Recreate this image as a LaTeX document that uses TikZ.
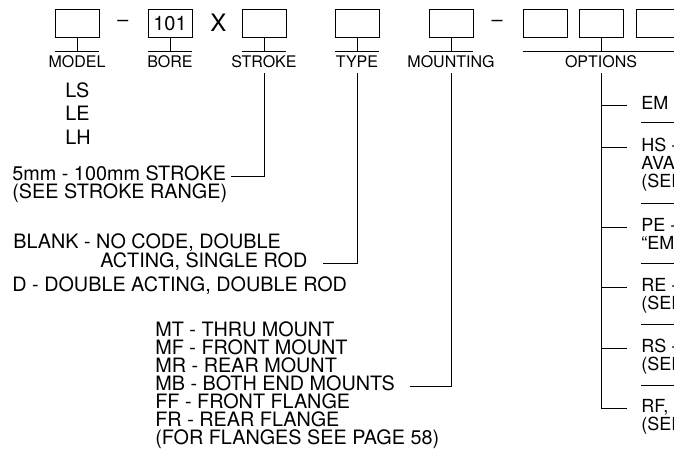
\documentclass[tikz,border=0pt]{standalone}
\usepackage{fontspec}
\setmainfont{TeX Gyre Heros}
\begin{document}
\begin{tikzpicture}[x=1pt,y=-1pt,line width=0.8pt,
  cbox/.style={draw, minimum width=44pt, minimum height=28pt, inner sep=0pt, anchor=north},
  lab/.style={font=\fontsize{16}{18}\selectfont, inner sep=0pt, text height=0.72em, text depth=0pt},
  body/.style={font=\fontsize{19.8}{18}\selectfont, inner sep=0pt, anchor=base west, text height=0.72em, text depth=0pt},
  optx/.style={body, font=\fontsize{18}{18}\selectfont},
  sym/.style={font=\fontsize{19.8}{18}\selectfont, inner sep=0pt}]
\useasboundingbox (0,0) rectangle (674,459);
\clip (0,0) rectangle (674,459);
\coordinate (ybar) at (0,51);
% boxes
\node[cbox] (bmodel) at (77,9) {};
\node[cbox,font=\fontsize{20}{20}\selectfont] (bbore) at (170,9) {101};
\node[cbox] (bstroke) at (264,9) {};
\node[cbox] (btype) at (357,9) {};
\node[cbox] (bmount) at (451,9) {};
\node[cbox] (bopt1) at (545,9) {};
\node[cbox] (bopt2) at (601,9) {};
\node[cbox] (bopt3) at (658,9) {};
% separators
\node[sym] (dash1) at (123,23) {\textendash};
\node[sym,font=\fontsize{24}{24}\selectfont] (times) at (218.5,23) {X};
\node[sym] (dash2) at (497,23) {\textendash};
% stems and bars
\foreach \b in {bmodel,bbore,bstroke,btype,bmount}{
  \draw (\b.south) -- (\b.south |- ybar);
  \draw (\b.south west |- ybar) -- (\b.south east |- ybar);
}
\draw (bopt2.south) -- (bopt2.south |- ybar);
\draw (bopt1.south west |- ybar) -- (bopt3.south east |- ybar);
% labels
\node[lab] (lmodel) at (77,64) {MODEL};
\node[lab] (lbore) at (170,64) {BORE};
\node[lab] (lstroke) at (264,64) {STROKE};
\node[lab] (ltype) at (357,64) {TYPE};
\node[lab] (lmount) at (451,64) {MOUNTING};
\node[lab] (lopt) at (601,64) {OPTIONS};
% model list
\node[body] (mLS) at (65,97) {LS};
\node[body] (mLE) at (65,120) {LE};
\node[body] (mLH) at (65,144) {LH};
% stroke
\node[body] (st1) at (12,180) {5mm - 100mm STROKE};
\node[body] (st2) at (12,198) {(SEE STROKE RANGE)};
\draw ([yshift=-5pt]lstroke.south) |- ([xshift=5pt]st1.east);
% type
\node[body] (ty1) at (13,248) {BLANK - NO CODE, DOUBLE};
\node[body] (ty2) at (100,267) {ACTING, SINGLE ROD};
\node[body] (ty3) at (12,291) {D - DOUBLE ACTING, DOUBLE ROD};
\draw ([yshift=-5pt]ltype.south) |- ([xshift=15pt]ty2.east);
% mounting
\node[body] (mt) at (155,336) {MT - THRU MOUNT};
\node[body] (mf) at (155,354) {MF - FRONT MOUNT};
\node[body] (mr) at (155,372) {MR - REAR MOUNT};
\node[body] (mb) at (155,390) {MB - BOTH END MOUNTS};
\node[body] (ff) at (155,408) {FF - FRONT FLANGE};
\node[body] (fr) at (155,426) {FR - REAR FLANGE};
\node[body] (fp) at (155,444) {(FOR FLANGES SEE PAGE 58)};
\draw ([yshift=-5pt]lmount.south) |- ([xshift=15pt]mb.east);
% options
\node[optx] (oEM) at (641,109) {EM};
\node[optx] (oHS1) at (641,151) {HS - HIGH};
\node[optx] (oHS2) at (641,169) {AVAILABLE};
\node[optx] (oHS3) at (641,187) {(SEE PAGE};
\node[optx] (oPE1) at (641,231) {PE - PROXIMITY};
\node[optx] (oPE2) at (641,249) {\char"201C EM\char"201D};
\node[optx] (oRE1) at (641,291) {RE - ROD END};
\node[optx] (oRE2) at (641,309) {(SEE PAGE};
\node[optx] (oRS1) at (641,352) {RS - ROD};
\node[optx] (oRS2) at (641,370) {(SEE PAGE};
\node[optx] (oRF1) at (641,412) {RF, RM};
\node[optx] (oRF2) at (641,430) {(SEE PAGE};
\draw ([yshift=-5pt]lopt.south) |- ([xshift=-14pt]oRF1.west);
\foreach \o in {oEM,oHS1,oPE1,oRE1,oRS1}{
  \draw (lopt.south |- \o.west) -- ([xshift=-14pt]\o.west);
}
\foreach \yy in {122,203,263,324,385}{
  \draw (641,\yy) -- (680,\yy);
}
\end{tikzpicture}
\end{document}
